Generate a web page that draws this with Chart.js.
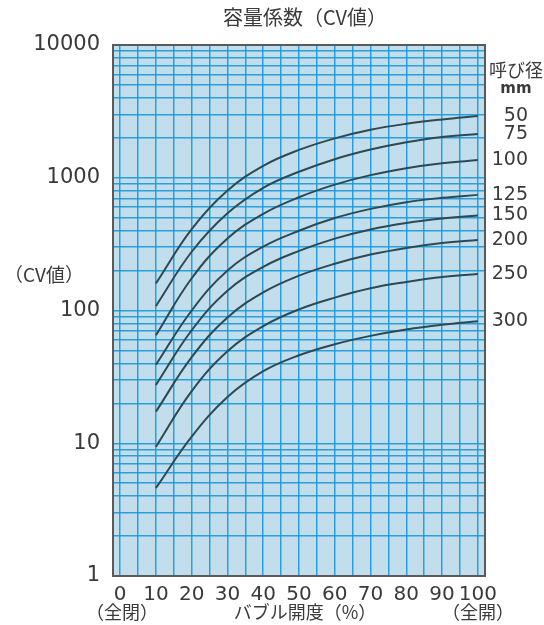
<!DOCTYPE html>
<html>
<head>
<meta charset="utf-8">
<script src="https://cdn.jsdelivr.net/npm/chart.js@4"></script>
<style>
  body { margin: 0; background: #fff; }
</style>
</head>
<body>
<canvas id="cvChart" width="544" height="625"></canvas>
<script>
// valve opening (%)
const openings = [10, 20, 30, 40, 50, 60, 70, 80, 90, 100];

// nominal sizes (mm) and CV values
const sizes = ['50', '75', '100', '125', '150', '200', '250', '300'];
const cv50  = [160, 410, 800, 1230, 1620, 1980, 2300, 2550, 2750, 2920];
const cv75  = [108, 277, 540, 840, 1110, 1380, 1630, 1850, 2030, 2140];
const cv100 = [65, 175, 349, 535, 713, 887, 1047, 1180, 1285, 1360];
const cv125 = [39, 100, 200, 303, 399, 497, 583, 655, 706, 743];
const cv150 = [27.5, 71, 141, 213, 281, 348, 408, 456, 493, 520];
const cv200 = [17.3, 44.5, 88.7, 137, 183, 225, 264, 296, 322, 340];
const cv250 = [9.4, 24.7, 49.3, 76.4, 102, 125, 147, 164, 179, 188];
const cv300 = [4.6, 11.2, 22.3, 34.9, 46, 55.7, 64.4, 71.9, 78, 83];
const seriesList = [cv50, cv75, cv100, cv125, cv150, cv200, cv250, cv300];

// tick values
const xTicks = [0, 5, 10, 15, 20, 25, 30, 35, 40, 45, 50, 55, 60, 65, 70, 75, 80, 85, 90, 95, 100];
const xTickLabels = [0, 10, 20, 30, 40, 50, 60, 70, 80, 90, 100];
const yTickLabels = [1, 10, 100, 1000, 10000];

const yTicks = [];
for (let d = 1; d < 10000; d *= 10) {
  for (let m = 1; m < 10; m++) yTicks.push(m * d);
}
yTicks.push(10000);

const numFont = '"DejaVu Sans", sans-serif';
const jpFont = '"Noto Sans CJK JP", sans-serif';
const textColor = '#3a3a3a';
const gridColor = 'rgba(25, 152, 218, 0.9)';

const datasets = seriesList.map((vals, i) => ({
  label: sizes[i],
  data: vals.map((v, j) => ({ x: openings[j], y: v })),
  borderColor: '#2c4a52',
  borderWidth: 2,
  pointRadius: 0,
  fill: false,
  tension: 0.4
}));

const extraText = {
  id: 'extraText',
  beforeDraw(chart) {
    const { ctx, chartArea: a } = chart;
    ctx.save();
    ctx.fillStyle = '#c2ddec';
    ctx.fillRect(a.left, a.top, a.right - a.left, a.bottom - a.top);
    ctx.restore();
  },
  afterDraw(chart) {
    const { ctx, chartArea: a } = chart;
    const yScale = chart.scales.y;
    ctx.save();
    // frame
    ctx.strokeStyle = '#5a5a5a';
    ctx.lineWidth = 2;
    ctx.strokeRect(a.left, a.top, a.right - a.left, a.bottom - a.top);

    ctx.fillStyle = textColor;
    ctx.textBaseline = 'middle';

    // title
    ctx.textAlign = 'center';
    ctx.font = '20px ' + jpFont;
    ctx.fillText('容量係数（CV値）', 305, 17);

    // y axis label
    ctx.font = '19px ' + jpFont;
    ctx.fillText('（CV値）', 44, 275);

    // x axis labels
    ctx.font = '18px ' + jpFont;
    ctx.fillText('（全閉）', 122, 612);
    ctx.fillText('バブル開度（%）', 305, 612);
    ctx.fillText('（全開）', 478, 612);

    // size header
    ctx.font = '18px ' + jpFont;
    ctx.fillText('呼び径', 516, 70);
    ctx.font = 'bold 15px ' + numFont;
    ctx.fillText('mm', 516, 89);

    // size labels at curve ends
    ctx.textAlign = 'right';
    ctx.font = '19px ' + numFont;
    seriesList.forEach((vals, i) => {
      const y = yScale.getPixelForValue(vals[vals.length - 1]);
      ctx.fillText(sizes[i], 528, y);
    });
    ctx.restore();
  }
};

new Chart('cvChart', {
  type: 'line',
  data: { datasets: datasets },
  options: {
    responsive: false,
    animation: false,
    layout: { padding: { top: 45, right: 59, left: 0, bottom: 0 } },
    plugins: {
      legend: { display: false },
      tooltip: { enabled: false }
    },
    scales: {
      x: {
        type: 'linear',
        min: -2,
        max: 102,
        afterBuildTicks: (scale) => { scale.ticks = xTicks.map(v => ({ value: v })); },
        afterFit: (scale) => { scale.height = 49; },
        grid: { color: gridColor, lineWidth: 1.5, drawTicks: false },
        border: { display: false },
        ticks: {
          autoSkip: false,
          maxRotation: 0,
          padding: 7,
          color: textColor,
          font: { family: numFont, size: 20 },
          callback: (v) => xTickLabels.includes(v) ? String(v) : ''
        }
      },
      y: {
        type: 'logarithmic',
        min: 1,
        max: 10000,
        afterBuildTicks: (scale) => { scale.ticks = yTicks.map(v => ({ value: v })); },
        afterFit: (scale) => { scale.width = 113; },
        grid: { color: gridColor, lineWidth: 1.5, drawTicks: false },
        border: { display: false },
        ticks: {
          autoSkip: false,
          padding: 13,
          color: textColor,
          font: { family: numFont, size: 21 },
          callback: (v) => yTickLabels.includes(v) ? String(v) : ''
        }
      }
    }
  },
  plugins: [extraText]
});
</script>
</body>
</html>
